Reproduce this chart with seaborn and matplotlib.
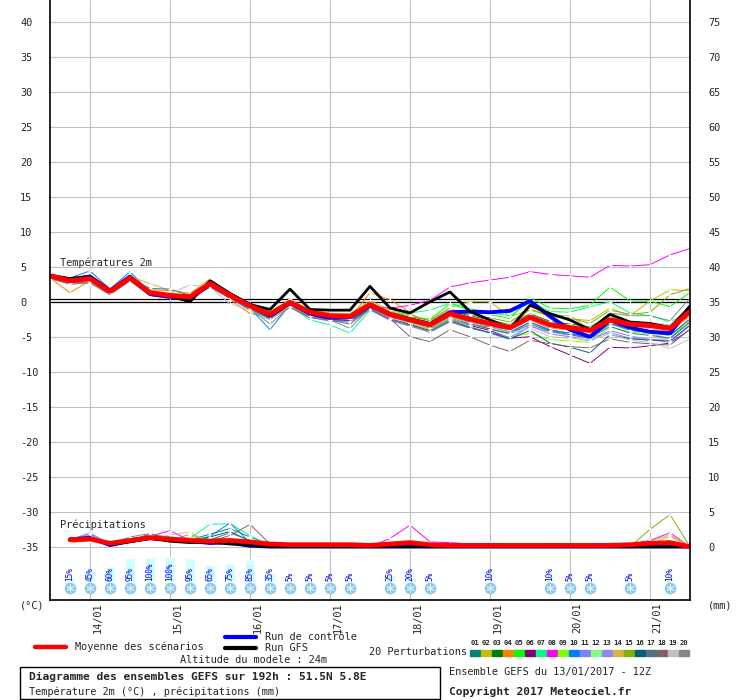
import matplotlib
matplotlib.use('Agg')
import pandas as pd
import seaborn as sns
from matplotlib import pyplot as plt
from matplotlib.lines import Line2D
from matplotlib.patches import Rectangle
from matplotlib.transforms import blended_transform_factory

# echeances (heures depuis 13/01 12Z)
heures = list(range(0, 193, 6))
heures_precip = list(range(6, 193, 6))
jours = ['14/01', '15/01', '16/01', '17/01', '18/01', '19/01', '20/01', '21/01']
heures_jours = [12, 36, 60, 84, 108, 132, 156, 180]

# temperatures 2m (degC)
t_moyenne = [3.7, 3.0, 3.3, 1.5, 3.4, 1.3, 0.9, 0.7, 2.6, 0.9, -0.6, -1.8, -0.1, -1.5, -2.0, -2.1, -0.4,
             -1.8, -2.6, -3.3, -1.7, -2.5, -3.1, -3.7, -2.2, -3.3, -3.7, -4.1, -2.6, -3.2, -3.4, -3.8, -1.4]
t_controle = [3.6, 3.2, 3.6, 1.6, 3.6, 1.1, 0.7, 0.5, 2.5, 1.0, -0.4, -2.0, -0.2, -1.7, -2.3, -2.2, -0.6,
              -1.8, -2.5, -3.2, -1.5, -1.4, -1.5, -1.3, 0.1, -2.1, -4.0, -5.0, -2.6, -3.7, -4.3, -4.5, -0.7]
t_gfs = [3.8, 3.3, 3.6, 1.6, 3.5, 1.2, 0.8, 0.0, 3.0, 1.2, -0.4, -1.1, 1.8, -1.1, -1.2, -1.2, 2.2,
         -0.9, -1.6, 0.0, 1.4, -1.4, -2.6, -3.8, -0.5, -1.7, -2.6, -4.0, -1.8, -2.9, -3.1, -3.7, -0.7]

t_p01 = [3.5, 2.7, 3.1, 1.2, 3.2, 1.0, 0.7, 0.5, 2.3, 0.6, -0.9, -2.2, -0.4, -1.9, -2.4, -2.6, -0.9,
         -2.4, -3.2, -4.0, -2.3, -3.1, -3.9, -4.5, -2.9, -4.1, -4.5, -5.0, -3.1, -3.8, -4.2, -4.8, -2.6]
t_p02 = [3.9, 3.2, 3.6, 1.8, 3.5, 1.5, 1.1, 1.0, 2.9, 1.2, -0.2, -1.4, 0.3, -1.2, -1.6, -1.7, 0.2,
         -1.2, -1.9, -2.6, -0.8, 0.0, 0.0, -2.1, -1.2, -2.0, -2.4, -2.7, -0.9, -2.0, 0.1, 1.7, 1.6]
t_p03 = [3.8, 3.1, 3.4, 1.6, 3.6, 1.4, 1.1, 0.9, 2.7, 1.2, -0.3, -1.6, 0.2, -1.3, -1.8, -1.9, -0.1,
         -1.5, -2.3, -2.9, -1.3, -2.0, -2.6, -3.3, -1.7, -2.8, -3.2, -3.6, -2.0, -2.9, -3.1, -3.4, -1.0]
t_p04 = [3.4, 1.3, 3.0, 1.0, 3.3, 1.7, 1.6, 1.2, 2.9, 0.3, -1.7, -2.2, -0.5, -1.7, -2.2, -2.3, 1.3,
         0.3, -1.5, -3.6, -2.1, -3.0, -3.5, -4.0, -2.6, -3.8, -4.0, -5.0, -3.2, -3.9, -4.1, -4.4, -2.0]
t_p05 = [3.6, 3.0, 3.4, 1.5, 3.3, 1.2, 0.8, 0.6, 2.4, 0.9, -0.8, -2.0, -0.3, -1.7, -2.2, -2.5, -0.2,
         -1.6, -2.2, -2.5, -0.3, -1.2, -1.8, -2.4, 0.6, -0.9, -1.0, -0.5, 2.1, 0.1, 0.1, -0.7, 1.3]
t_p06 = [3.5, 2.8, 3.1, 1.3, 3.1, 1.1, 0.7, 0.4, 2.3, 0.7, -0.9, -2.1, -0.3, -2.0, -2.7, -2.7, -1.0,
         -2.5, -3.3, -4.1, -2.5, -3.4, -4.1, -5.2, -5.0, -6.4, -7.6, -8.8, -6.5, -6.6, -6.3, -5.9, -4.0]
t_p07 = [3.6, 2.9, 3.2, 1.4, 3.3, 1.1, 0.8, 0.6, 2.5, 0.6, -1.3, -2.6, -0.6, -2.6, -3.3, -4.5, -1.2,
         -1.9, -1.6, -1.2, -0.2, -1.0, -1.6, -2.0, 0.0, -1.4, -1.5, -0.7, 0.0, -1.6, -2.0, -2.9, -1.4]
t_p08 = [3.5, 2.9, 3.2, 1.3, 3.3, 1.1, 0.5, 0.3, 2.2, 0.7, -0.8, -2.1, -0.3, -2.2, -2.6, -2.6, -0.7,
         -0.9, -0.5, 0.2, 2.1, 2.7, 3.1, 3.5, 4.3, 3.9, 3.7, 3.5, 5.2, 5.1, 5.3, 6.7, 7.6]
t_p09 = [3.7, 3.0, 3.3, 1.5, 3.4, 1.2, 0.9, 0.7, 2.5, 0.8, -0.8, -2.1, -0.4, -1.9, -2.4, -2.5, -0.8,
         -2.2, -3.1, -4.0, -2.5, -3.5, -4.5, -5.1, -4.5, -5.4, -5.6, -5.8, -3.6, -4.3, -4.6, -5.2, -2.5]
t_p10 = [3.7, 3.4, 4.4, 1.8, 4.3, 1.4, 0.8, 0.5, 2.4, 0.6, -0.9, -4.0, -0.4, -1.9, -2.5, -2.6, -0.7,
         -2.2, -2.8, -3.5, -1.9, -2.9, -3.6, -4.3, -2.9, -4.0, -4.5, -5.3, -3.1, -4.1, -4.4, -4.8, -2.4]
t_p11 = [3.4, 2.6, 2.9, 1.1, 3.0, 0.9, 0.5, 0.3, 2.1, 0.5, -1.1, -2.5, -0.6, -2.1, -2.6, -2.8, -1.1,
         -2.7, -3.5, -4.3, -2.9, -3.8, -4.4, -5.1, -3.4, -4.6, -5.0, -5.6, -4.1, -4.9, -5.4, -5.8, -3.4]
t_p12 = [3.8, 3.3, 3.5, 1.7, 3.7, 1.5, 1.0, 0.8, 2.7, 1.1, -0.4, -1.6, 0.0, -1.4, -1.8, -2.0, -0.2,
         -1.7, -2.4, -3.0, -1.4, -2.2, -2.8, -3.4, -1.9, -3.0, -3.3, -3.7, -2.1, -2.8, -3.0, -3.3, -1.8]
t_p13 = [3.5, 2.8, 3.0, 1.3, 3.1, 1.0, 0.6, 0.4, 2.2, 0.5, -1.2, -2.4, -0.7, -2.2, -2.8, -2.9, -1.2,
         -2.6, -3.4, -4.4, -2.8, -3.6, -4.5, -5.4, -3.5, -4.3, -4.8, -5.1, -4.4, -5.2, -5.4, -5.3, -2.9]
t_p14 = [3.9, 3.2, 3.4, 1.6, 3.6, 2.6, 1.6, 1.2, 3.3, 1.0, -0.6, -1.9, 0.4, -1.6, -2.1, -2.2, -0.3,
         -1.7, -2.5, -3.2, -1.5, -2.4, -3.0, -3.7, -1.1, -1.9, -2.0, -4.0, -2.1, -3.2, -3.9, -4.2, -1.8]
t_p15 = [3.8, 3.1, 3.5, 1.6, 3.5, 1.3, 1.0, 0.8, 2.7, 1.1, -0.3, -1.5, 0.1, -1.4, -1.9, -2.0, -0.2,
         -1.4, -2.1, -2.7, -1.0, -1.9, -2.3, -2.9, -1.0, -2.1, -2.3, -3.1, -1.2, -1.8, -1.5, 1.0, 1.9]
t_p16 = [3.6, 2.9, 3.2, 1.4, 3.2, 1.3, 0.9, 0.6, 2.4, 0.7, -1.0, -2.3, -0.5, -2.0, -2.5, -2.7, -1.0,
         -2.5, -3.3, -4.2, -2.7, -3.7, -4.4, -5.3, -4.1, -5.9, -6.5, -7.3, -4.7, -5.3, -5.5, -5.6, -3.3]
t_p17 = [3.7, 3.0, 3.3, 1.4, 3.3, 1.9, 1.8, 0.9, 2.6, 0.9, -0.7, -1.9, -0.2, -1.8, -2.3, -2.4, -0.5,
         -2.1, -2.9, -3.8, -2.2, -3.2, -3.9, -4.6, -3.2, -4.2, -4.7, -5.2, -3.5, -4.5, -4.8, -5.2, -2.9]
t_p18 = [3.3, 2.5, 2.7, 1.0, 3.0, 0.9, 0.6, 0.4, 2.1, 0.5, -1.0, -2.5, -0.8, -2.3, -2.6, -3.2, -1.0,
         -2.4, -5.0, -5.7, -4.0, -5.0, -6.2, -7.1, -5.5, -6.0, -6.4, -6.6, -5.3, -5.8, -6.0, -6.2, -3.9]
t_p19 = [3.6, 2.8, 3.0, 1.4, 3.2, 1.1, 1.2, 2.4, 2.1, -0.3, -1.2, -2.6, -0.6, -2.0, -2.4, -2.5, -0.8,
         -2.3, -3.0, -3.7, -2.3, -3.0, -3.6, -4.4, -3.8, -5.0, -5.2, -5.4, -4.6, -5.5, -5.8, -6.7, -5.3]
t_p20 = [3.4, 2.7, 2.8, 1.2, 3.0, 0.9, 0.5, 0.5, 2.2, 0.6, -0.9, -3.2, -0.7, -2.1, -2.6, -3.8, -0.9,
         -2.4, -3.4, -4.2, -2.6, -3.3, -3.6, -3.9, -2.5, -3.3, -3.6, -3.9, -1.6, -2.0, -2.0, -2.7, 0.5]

# precipitations (mm / 6h)
p_moyenne = [1.0, 1.1, 0.5, 0.9, 1.3, 1.1, 0.9, 0.8, 0.9, 0.7, 0.4, 0.3, 0.3, 0.3, 0.3, 0.2,
             0.4, 0.6, 0.3, 0.2, 0.2, 0.2, 0.2, 0.2, 0.2, 0.2, 0.2, 0.2, 0.3, 0.5, 0.6, 0.0]
p_controle = [1.1, 1.3, 0.2, 0.8, 1.2, 1.0, 0.8, 0.5, 0.6, 0.1, 0.0, 0.0, 0.0, 0.0, 0.0, 0.0,
              0.0, 0.0, 0.0, 0.0, 0.0, 0.0, 0.0, 0.0, 0.0, 0.0, 0.0, 0.0, 0.0, 0.0, 0.0, 0.0]
p_gfs = [0.9, 1.2, 0.3, 0.7, 1.2, 0.8, 0.6, 0.7, 0.4, 0.2, 0.0, 0.0, 0.0, 0.0, 0.0, 0.0,
         0.0, 0.0, 0.0, 0.0, 0.0, 0.0, 0.0, 0.0, 0.0, 0.0, 0.0, 0.0, 0.0, 0.0, 0.0, 0.0]

p_p01 = [0.8, 1.2, 0.3, 0.7, 1.6, 1.4, 1.0, 1.8, 2.6, 1.4, 0.3, 0.0, 0.0, 0.0, 0.0, 0.0,
         0.0, 0.3, 0.0, 0.0, 0.0, 0.0, 0.0, 0.0, 0.0, 0.0, 0.0, 0.0, 0.0, 0.2, 0.4, 0.0]
p_p02 = [1.2, 1.0, 0.6, 1.1, 1.2, 1.0, 0.7, 0.5, 0.6, 0.3, 0.0, 0.0, 0.0, 0.0, 0.0, 0.0,
         0.2, 0.4, 0.0, 0.0, 0.0, 0.0, 0.0, 0.0, 0.0, 0.0, 0.0, 0.0, 0.0, 0.4, 1.5, 0.0]
p_p03 = [0.9, 1.3, 0.4, 1.0, 1.5, 1.2, 0.9, 0.6, 1.0, 0.5, 0.0, 0.0, 0.0, 0.0, 0.0, 0.0,
         0.0, 0.0, 0.0, 0.0, 0.0, 0.0, 0.0, 0.0, 0.0, 0.0, 0.0, 0.0, 0.0, 0.0, 0.3, 0.0]
p_p04 = [0.6, 0.9, 0.5, 0.8, 1.0, 0.9, 1.8, 0.7, 0.8, 0.4, 0.0, 0.0, 0.0, 0.0, 0.0, 0.0,
         0.0, 0.2, 0.0, 0.0, 0.0, 0.0, 0.0, 0.0, 0.0, 0.0, 0.0, 0.0, 0.0, 0.0, 0.2, 0.0]
p_p05 = [1.4, 1.0, 0.4, 1.2, 1.4, 1.3, 1.0, 1.2, 1.1, 0.6, 0.0, 0.0, 0.0, 0.0, 0.0, 0.0,
         0.0, 0.0, 0.0, 0.0, 0.0, 0.0, 0.0, 0.0, 0.0, 0.0, 0.0, 0.0, 0.0, 0.0, 0.0, 0.0]
p_p06 = [1.1, 1.5, 0.3, 0.9, 1.8, 1.2, 0.6, 0.5, 0.7, 0.3, 0.0, 0.0, 0.0, 0.0, 0.0, 0.0,
         0.0, 0.3, 0.0, 0.0, 0.0, 0.0, 0.0, 0.0, 0.0, 0.0, 0.0, 0.0, 0.0, 0.0, 0.0, 0.0]
p_p07 = [1.3, 1.0, 0.5, 1.0, 1.3, 1.4, 1.2, 3.2, 3.3, 1.6, 0.2, 0.0, 0.0, 0.0, 0.0, 0.0,
         0.0, 0.0, 0.0, 0.0, 0.0, 0.0, 0.0, 0.0, 0.0, 0.0, 0.0, 0.0, 0.0, 0.0, 0.0, 0.0]
p_p08 = [1.0, 1.2, 0.4, 0.8, 1.5, 2.3, 0.9, 0.6, 0.8, 0.4, 0.0, 0.0, 0.0, 0.0, 0.0, 0.0,
         1.2, 3.1, 0.7, 0.6, 0.4, 0.5, 0.3, 0.3, 0.4, 0.3, 0.3, 0.5, 0.4, 0.9, 2.0, 0.0]
p_p09 = [1.2, 1.1, 0.6, 1.1, 1.2, 1.0, 0.8, 0.9, 1.2, 0.5, 0.0, 0.0, 0.0, 0.0, 0.0, 0.0,
         0.0, 0.0, 0.0, 0.0, 0.0, 0.0, 0.0, 0.0, 0.0, 0.0, 0.0, 0.0, 0.0, 0.0, 0.2, 0.0]
p_p10 = [0.7, 1.1, 0.2, 0.6, 1.1, 1.0, 0.8, 1.5, 3.4, 0.6, 0.0, 0.0, 0.0, 0.0, 0.0, 0.0,
         0.0, 0.0, 0.0, 0.0, 0.0, 0.0, 0.0, 0.0, 0.0, 0.0, 0.0, 0.0, 0.0, 0.0, 0.0, 0.0]
p_p11 = [0.9, 1.8, 0.4, 0.8, 1.3, 1.1, 0.7, 0.6, 0.9, 0.5, 0.0, 0.0, 0.0, 0.0, 0.0, 0.0,
         0.0, 0.0, 0.0, 0.0, 0.0, 0.0, 0.0, 0.0, 0.0, 0.0, 0.0, 0.0, 0.0, 0.0, 0.0, 0.0]
p_p12 = [1.1, 0.9, 0.5, 1.0, 1.6, 1.2, 0.9, 0.8, 0.8, 0.6, 0.0, 0.0, 0.0, 0.0, 0.0, 0.0,
         0.0, 0.0, 0.0, 0.0, 0.0, 0.0, 0.0, 0.0, 0.0, 0.0, 0.0, 0.0, 0.0, 0.0, 0.0, 0.0]
p_p13 = [1.0, 2.0, 0.4, 0.8, 1.1, 1.0, 0.8, 0.7, 0.9, 0.4, 0.0, 0.0, 0.0, 0.0, 0.0, 0.0,
         0.0, 0.0, 0.0, 0.0, 0.0, 0.0, 0.0, 0.0, 0.0, 0.0, 0.0, 0.0, 0.0, 0.0, 0.0, 0.0]
p_p14 = [0.8, 1.1, 0.6, 1.3, 1.2, 1.1, 1.3, 0.9, 0.7, 0.4, 0.0, 0.0, 0.0, 0.0, 0.0, 0.0,
         0.0, 0.0, 0.0, 0.0, 0.0, 0.0, 0.0, 0.0, 0.0, 0.0, 0.0, 0.0, 0.0, 0.8, 1.7, 0.0]
p_p15 = [1.0, 0.9, 0.5, 0.9, 1.4, 1.0, 0.7, 0.8, 1.0, 0.5, 0.0, 0.0, 0.0, 0.0, 0.0, 0.0,
         0.0, 0.0, 0.0, 0.0, 0.0, 0.0, 0.0, 0.0, 0.0, 0.0, 0.0, 0.0, 0.0, 2.5, 4.6, 0.0]
p_p16 = [0.9, 1.2, 0.4, 0.9, 1.3, 1.2, 0.9, 1.4, 2.2, 0.8, 0.0, 0.0, 0.0, 0.0, 0.0, 0.0,
         0.0, 0.0, 0.0, 0.0, 0.0, 0.0, 0.0, 0.0, 0.0, 0.0, 0.0, 0.0, 0.0, 0.0, 0.0, 0.0]
p_p17 = [1.1, 1.0, 0.5, 1.0, 1.2, 1.3, 1.0, 1.0, 2.0, 0.9, 0.0, 0.0, 0.0, 0.0, 0.0, 0.0,
         0.0, 0.0, 0.0, 0.0, 0.0, 0.0, 0.0, 0.0, 0.0, 0.0, 0.0, 0.0, 0.0, 0.0, 0.0, 0.0]
p_p18 = [0.8, 1.3, 0.4, 1.2, 1.5, 1.1, 0.9, 0.8, 1.6, 3.2, 0.4, 0.0, 0.0, 0.0, 0.0, 0.2,
         0.0, 0.0, 0.0, 0.0, 0.0, 0.0, 0.0, 0.0, 0.0, 0.0, 0.0, 0.0, 0.0, 0.0, 0.0, 0.0]
p_p19 = [1.0, 1.1, 0.5, 0.9, 1.2, 1.7, 2.1, 0.6, 0.8, 0.4, 0.0, 0.0, 0.0, 0.0, 0.0, 0.0,
         0.0, 0.0, 0.0, 0.0, 0.0, 0.0, 0.0, 0.0, 0.0, 0.0, 0.0, 0.0, 0.0, 0.0, 0.0, 0.0]
p_p20 = [1.2, 1.6, 0.4, 1.4, 1.9, 1.3, 0.9, 0.7, 0.9, 0.5, 0.0, 0.0, 0.5, 0.0, 0.0, 0.0,
         0.0, 0.0, 0.0, 0.0, 0.0, 0.0, 0.0, 0.0, 0.0, 0.0, 0.0, 0.0, 0.0, 0.0, 0.0, 0.0]

# probabilite de neige (%)
neige_heures = [6, 12, 18, 24, 30, 36, 42, 48, 54, 60, 66, 72, 78, 84, 90,
                102, 108, 114, 132, 150, 156, 162, 174, 186]
neige_pct = [15, 45, 60, 95, 100, 100, 95, 65, 75, 85, 35, 5, 5, 5, 5,
             25, 20, 5, 10, 10, 5, 5, 5, 10]

couleurs_pert = ['#008080', '#C0C000', '#008000', '#FF8000', '#00FF00', '#800080', '#00FF80',
                 '#FF00FF', '#80FF00', '#0080FF', '#8080FF', '#80FF80', '#8888FF', '#E0B040',
                 '#80B000', '#006080', '#507080', '#806070', '#C0C0C0', '#888888']

temp_pert = [t_p01, t_p02, t_p03, t_p04, t_p05, t_p06, t_p07, t_p08, t_p09, t_p10,
             t_p11, t_p12, t_p13, t_p14, t_p15, t_p16, t_p17, t_p18, t_p19, t_p20]
precip_pert = [p_p01, p_p02, p_p03, p_p04, p_p05, p_p06, p_p07, p_p08, p_p09, p_p10,
               p_p11, p_p12, p_p13, p_p14, p_p15, p_p16, p_p17, p_p18, p_p19, p_p20]

sns.set_style('white')
plt.rcParams['font.family'] = ['DejaVu Sans Mono']

# tableau long pour seaborn
noms = [f'{i + 1:02d}' for i in range(20)]
df_t = pd.concat([pd.DataFrame({'h': heures, 'v': v, 'membre': n}) for n, v in zip(noms, temp_pert)])
# precipitations tracees sur l'axe degC : 0 mm = -35
df_p = pd.concat([pd.DataFrame({'h': heures_precip, 'mm': v, 'membre': n}) for n, v in zip(noms, precip_pert)])
df_p['v'] = df_p['mm'] - 35
palette = dict(zip(noms, couleurs_pert))

W, H = 740, 700
fig = plt.figure(figsize=(W / 100, H / 100), dpi=100)
ax = fig.add_axes([50 / W, 1 - 600 / H, 640 / W, 600 / H])

def fx(x):
    return x / W

def fy(y):
    return 1 - y / H

ax.set_xlim(0, 192)
ax.set_ylim(-42.6, 43.1)

for h in heures_jours:
    ax.axvline(h, color='#C0C0C0', lw=0.8, zorder=0)
for y in range(-35, 41, 5):
    ax.axhline(y, color='#C0C0C0', lw=0.8, zorder=0)
ax.axhline(0, color='black', lw=0.9, zorder=1)
ax.axhline(0.35, color='black', lw=0.9, zorder=1)

# probabilite de neige
ax.bar(neige_heures, [p / 100 * 3.6 for p in neige_pct], bottom=-40.0, width=3.2,
       color='#CCFFFF', zorder=1)
ax.scatter(neige_heures, [-40.95] * len(neige_heures), s=70, color='#8CC8EC', zorder=2, linewidths=0)
ax.scatter(neige_heures, [-40.95] * len(neige_heures), s=30, marker=(6, 2, 0), color='#DDF2FF',
           linewidths=0.6, zorder=3)
for h, p in zip(neige_heures, neige_pct):
    ax.text(h, -39.95, f'{p}%', rotation=90, ha='center', va='bottom', color='#0000FF',
            fontsize=5.6, zorder=4)

# perturbations
kw = dict(x='h', y='v', hue='membre', palette=palette, legend=False, ax=ax, lw=0.7,
          marker='+', markersize=3, markeredgewidth=0.7, estimator=None)
sns.lineplot(data=df_t, **kw)
sns.lineplot(data=df_p, **kw)

# controle, GFS, moyenne
sns.lineplot(x=heures, y=t_controle, color='#0000FF', lw=2.8, ax=ax)
sns.lineplot(x=heures_precip, y=[v - 35 for v in p_controle], color='#0000FF', lw=2.4, ax=ax)
sns.lineplot(x=heures, y=t_gfs, color='black', lw=2.0, ax=ax)
sns.lineplot(x=heures_precip, y=[v - 35 for v in p_gfs], color='black', lw=2.0, ax=ax)
sns.lineplot(x=heures, y=t_moyenne, color='#FF0000', lw=3.6, ax=ax)
sns.lineplot(x=heures_precip, y=[v - 35 for v in p_moyenne], color='#FF0000', lw=3.4, ax=ax)

# axes
for s in ['top']:
    ax.spines[s].set_visible(False)
for s in ['left', 'right', 'bottom']:
    ax.spines[s].set_color('black')
    ax.spines[s].set_linewidth(1.2)
ax.set_xticks([])
ax.set_yticks(list(range(-35, 41, 5)))
ax.set_yticklabels([str(v) for v in range(-35, 41, 5)])
ax.tick_params(axis='y', length=0, labelsize=7.4, pad=21.5)
for lab in ax.get_yticklabels():
    lab.set_horizontalalignment('left')
ax.set_xlabel('')
ax.set_ylabel('')

ax2 = ax.twinx()
ax2.set_ylim(-42.6 + 35, 43.1 + 35)
ax2.set_yticks(list(range(0, 76, 5)))
ax2.tick_params(axis='y', length=0, labelsize=7.4, pad=13)
for s in ['top', 'left', 'bottom', 'right']:
    ax2.spines[s].set_visible(False)
ax2.grid(False)

trans = blended_transform_factory(ax.transData, ax.transAxes)
for h, j in zip(heures_jours, jours):
    ax.text(h + 2.3, -0.004, j, rotation=90, ha='center', va='top', fontsize=7.4, transform=trans)

fig.text(fx(60), fy(263), 'Températures 2m', fontsize=7.4, va='center')
fig.text(fx(60), fy(525), 'Précipitations', fontsize=7.4, va='center')
fig.text(fx(20), fy(606), '(°C)', fontsize=7.4, va='center')
fig.text(fx(708), fy(606), '(mm)', fontsize=7.4, va='center')

# legende
fig.add_artist(Line2D([fx(35), fx(66)], [fy(647), fy(647)], color='#FF0000', lw=3.2))
fig.text(fx(75), fy(647), 'Moyenne des scénarios', fontsize=7.4, va='center')
fig.add_artist(Line2D([fx(225), fx(256)], [fy(637), fy(637)], color='#0000FF', lw=3.0))
fig.text(fx(265), fy(637), 'Run de contrôle', fontsize=7.4, va='center')
fig.add_artist(Line2D([fx(225), fx(256)], [fy(648), fy(648)], color='black', lw=3.0))
fig.text(fx(265), fy(648), 'Run GFS', fontsize=7.4, va='center')
fig.text(fx(180), fy(660), 'Altitude du modele : 24m', fontsize=7.4, va='center')
fig.text(fx(369), fy(652), '20 Perturbations', fontsize=7.4, va='center')
for i, c in enumerate(couleurs_pert):
    x0 = 470 + 11 * i
    fig.add_artist(Rectangle((fx(x0), fy(656)), 10 / W, 6 / H, color=c, transform=fig.transFigure))
    fig.text(fx(x0 + 5), fy(643), noms[i], fontsize=5.2, ha='center', va='center', weight='bold')

fig.add_artist(Rectangle((fx(20), fy(699)), 420 / W, 32 / H, fill=False, edgecolor='black',
                         lw=1.0, transform=fig.transFigure))
fig.text(fx(29), fy(677), 'Diagramme des ensembles GEFS sur 192h : 51.5N 5.8E', fontsize=8.1,
         weight='bold', va='center')
fig.text(fx(29), fy(692), 'Température 2m (°C) , précipitations (mm)', fontsize=7.4, va='center')
fig.text(fx(449), fy(672), 'Ensemble GEFS du 13/01/2017 - 12Z', fontsize=7.4, va='center')
fig.text(fx(449), fy(692), 'Copyright 2017 Meteociel.fr', fontsize=8.1, weight='bold', va='center')

fig.savefig('out.png', dpi=100)
